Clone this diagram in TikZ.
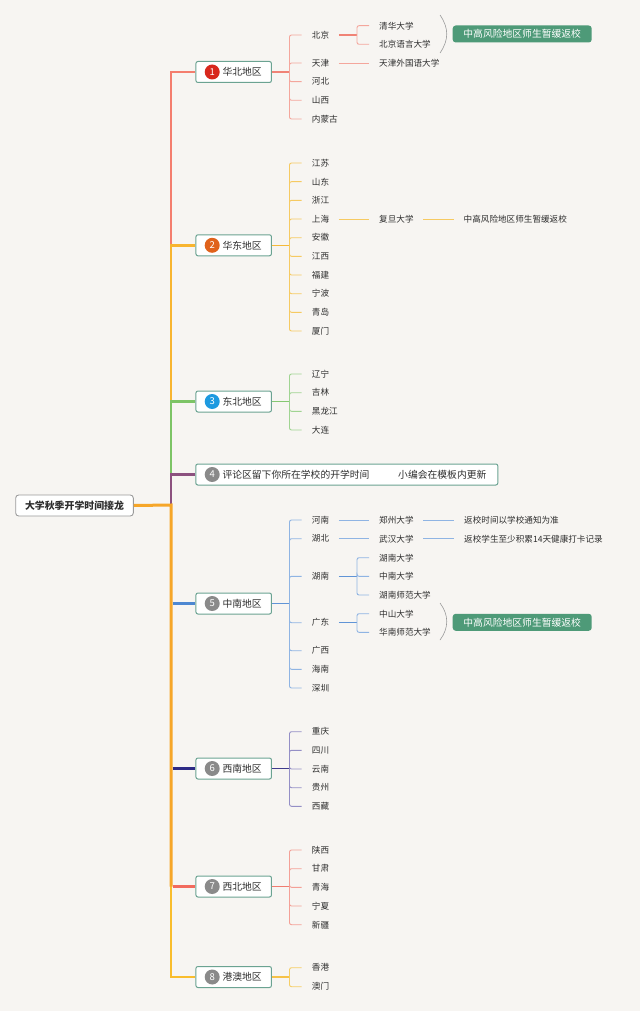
\documentclass[tikz,border=0pt]{standalone}
\usepackage{fontspec}
\setmainfont{Noto Sans CJK SC}
\definecolor{bgc}{HTML}{F7F5F2}
\definecolor{txtc}{HTML}{2E2E2E}
\definecolor{boxc}{HTML}{6BA392}
\definecolor{rootb}{HTML}{9A9A9A}
\definecolor{tagc}{HTML}{4E9A78}
\definecolor{bracec}{HTML}{999999}
\definecolor{cA}{HTML}{F47E6E}\definecolor{cAl}{HTML}{F4A69C}\definecolor{cAm}{HTML}{F08376}
\definecolor{cB}{HTML}{F8B530}\definecolor{cBl}{HTML}{F6CA62}\definecolor{cBm}{HTML}{F5BA3A}
\definecolor{cC}{HTML}{7DC466}\definecolor{cCl}{HTML}{A0D492}\definecolor{cCm}{HTML}{86C872}
\definecolor{cD}{HTML}{8C517F}
\definecolor{cE}{HTML}{4D87D1}\definecolor{cEl}{HTML}{8FB4E3}\definecolor{cEm}{HTML}{6094D6}
\definecolor{cF}{HTML}{2D2A85}\definecolor{cFl}{HTML}{948FC6}\definecolor{cFm}{HTML}{3F3B8C}
\definecolor{cG}{HTML}{F26B5E}\definecolor{cGl}{HTML}{F4A097}\definecolor{cGm}{HTML}{F07C70}
\definecolor{cH}{HTML}{F9BD2D}\definecolor{cHl}{HTML}{F6CE66}\definecolor{cHm}{HTML}{F6C248}
\definecolor{cO}{HTML}{F6A629}
\definecolor{nA}{HTML}{D8281D}\definecolor{nB}{HTML}{E0621B}\definecolor{nC}{HTML}{1E9AE0}\definecolor{nG}{HTML}{8A8A8A}
\tikzset{
  lab/.style={anchor=west, inner sep=0pt, font=\fontsize{8.6}{10}\selectfont, text=txtc},
  regbox/.style={draw=boxc, line width=1pt, fill=white, rounded corners=2pt, minimum height=21pt, minimum width=75.5pt, inner sep=0pt},
  regtxt/.style={anchor=west, inner sep=0pt, font=\fontsize{9.8}{11}\selectfont, text=txtc},
  numc/.style={circle, minimum size=15pt, inner sep=0pt, text=white, font=\fontsize{9.5}{10}\selectfont},
  tagbox/.style={fill=tagc, rounded corners=3pt, text=white, minimum width=139pt, minimum height=17pt, inner sep=0pt, font=\fontsize{9.8}{11}\selectfont},
  rootbox/.style={draw=rootb, line width=0.9pt, fill=white, rounded corners=3pt, minimum width=117.6pt, minimum height=21pt, inner sep=0pt, font=\bfseries\fontsize{9.9}{11}\selectfont, text=txtc},
  bracel/.style={draw=bracec, line width=0.6pt},
  sub/.style={line width=0.9pt, rounded corners=2pt},
  trunk/.style={line width=2.6pt},
}
\newcommand\mybrk[3]{\draw[sub, #1] (#2.east -| bx) |- ([xshift=-10pt]#3.west);}
\newcommand\mybrkb[3]{\draw[sub, #1] (#2.east -| bt) |- ([xshift=-10pt]#3.west);}
\newcommand\mylink[3]{\draw[line width=0.9pt, #1] ([xshift=9.5pt]#2.east) -- ([xshift=-10pt]#3.west);}
\begin{document}
\begin{tikzpicture}[x=1pt,y=-1pt]
\useasboundingbox[fill=bgc] (0,0) rectangle (640,1011);
\coordinate (bx) at (289.5,0);
\coordinate (bt) at (357,0);
\coordinate (tx) at (171,505);

% root
\node[rootbox] (root) at (74.5,505.5) {大学秋季开学时间接龙};

% region boxes
\node[regbox] (r1) at (233.7,72) {};
\node[regbox] (r2) at (233.7,245.3) {};
\node[regbox] (r3) at (233.7,401.5) {};
\node[regbox, minimum width=302pt] (r4) at (346.8,474.5) {};
\node[regbox] (r5) at (233.7,603.5) {};
\node[regbox] (r6) at (233.7,768.5) {};
\node[regbox] (r7) at (233.7,886.5) {};
\node[regbox] (r8) at (233.7,977) {};

% trunk
\draw[trunk, cA] (r1.west) -| (tx);
\draw[trunk, cB] (r2.west) -| (tx);
\draw[trunk, cC] (r3.west) -| (tx);
\draw[trunk, cD, line width=2.2pt] (r4.west) -| (tx);
\draw[trunk, cH] (r8.west) -| (tx);
\draw[line width=3pt, cO] (root.east) -- (tx) -- (tx |- r7.west);
\draw[line width=3pt, cE] ([xshift=1.5pt]tx |- r5.west) -- (r5.west);
\draw[line width=3pt, cF] ([xshift=1.5pt]tx |- r6.west) -- (r6.west);
\draw[line width=3pt, cG] ([xshift=1.5pt]tx |- r7.west) -- (r7.west);

% numbers and region labels
\node[numc, fill=nA] (n1) at (212.2,72) {1};
\node[regtxt] (t1) at (222.3,72) {华北地区};
\node[numc, fill=nB] (n2) at (212.2,245.3) {2};
\node[regtxt] (t2) at (222.3,245.3) {华东地区};
\node[numc, fill=nC] (n3) at (212.2,401.5) {3};
\node[regtxt] (t3) at (222.3,401.5) {东北地区};
\node[numc, fill=nG] (n4) at (212.2,474.5) {4};
\node[regtxt] (t4) at (222.3,474.5) {评论区留下你所在学校的开学时间};
\node[regtxt] (t4b) at (398,474.5) {小编会在模板内更新};
\node[numc, fill=nG] (n5) at (212.2,603.5) {5};
\node[regtxt] (t5) at (222.3,603.5) {中南地区};
\node[numc, fill=nG] (n6) at (212.2,768.5) {6};
\node[regtxt] (t6) at (222.3,768.5) {西南地区};
\node[numc, fill=nG] (n7) at (212.2,886.5) {7};
\node[regtxt] (t7) at (222.3,886.5) {西北地区};
\node[numc, fill=nG] (n8) at (212.2,977) {8};
\node[regtxt] (t8) at (222.3,977) {港澳地区};

% ---------- 华北 ----------
\node[lab] (bj) at (311.7,35) {北京};
\node[lab] (tj) at (311.7,63) {天津};
\node[lab] (hb) at (311.7,81.7) {河北};
\node[lab] (sx) at (311.7,100.3) {山西};
\node[lab] (nm) at (311.7,119) {内蒙古};
\node[lab] (qh) at (379,25.7) {清华大学};
\node[lab] (bly) at (379,44.3) {北京语言大学};
\node[lab] (tjw) at (379,63) {天津外国语大学};
\draw[line width=1.1pt, cAm] (r1.east) -- (r1.east -| bx);
\foreach \c in {bj,tj,hb,sx,nm}{\mybrk{cAl}{r1}{\c}}
\draw[line width=1.1pt, cAm] ([xshift=9.5pt]bj.east) -- (bj.east -| bt);
\foreach \c in {qh,bly}{\mybrkb{cAl}{bj}{\c}}
\mylink{cAl}{tj}{tjw}
\draw[bracel] (440,15) .. controls (449,28) and (449,40) .. (440,53);
\node[tagbox] (tag1) at (522.2,34) {中高风险地区师生暂缓返校};

% ---------- 华东 ----------
\node[lab] (js) at (311.7,163) {江苏};
\node[lab] (sd) at (311.7,181.7) {山东};
\node[lab] (zj) at (311.7,200.3) {浙江};
\node[lab] (sh) at (311.7,219) {上海};
\node[lab] (ah) at (311.7,237.7) {安徽};
\node[lab] (jx) at (311.7,256.3) {江西};
\node[lab] (fj) at (311.7,275) {福建};
\node[lab] (nb) at (311.7,293.7) {宁波};
\node[lab] (qd) at (311.7,312.3) {青岛};
\node[lab] (xm) at (311.7,331) {厦门};
\node[lab] (fd) at (379,219) {复旦大学};
\node[lab] (fdn) at (463.5,219) {中高风险地区师生暂缓返校};
\draw[line width=1.1pt, cBm] (r2.east) -- (r2.east -| bx);
\foreach \c in {js,sd,zj,sh,ah,jx,fj,nb,qd,xm}{\mybrk{cBl}{r2}{\c}}
\mylink{cBl}{sh}{fd}
\mylink{cBl}{fd}{fdn}

% ---------- 东北 ----------
\node[lab] (ln) at (311.7,374) {辽宁};
\node[lab] (jl) at (311.7,392.7) {吉林};
\node[lab] (hlj) at (311.7,411.3) {黑龙江};
\node[lab] (dl) at (311.7,430) {大连};
\draw[line width=1.1pt, cCm] (r3.east) -- (r3.east -| bx);
\foreach \c in {ln,jl,hlj,dl}{\mybrk{cCl}{r3}{\c}}

% ---------- 中南 ----------
\node[lab] (hen) at (311.7,520) {河南};
\node[lab] (hub) at (311.7,538.7) {湖北};
\node[lab] (hun) at (311.7,576.3) {湖南};
\node[lab] (gd) at (311.7,622.7) {广东};
\node[lab] (gx) at (311.7,650.7) {广西};
\node[lab] (hain) at (311.7,669.3) {海南};
\node[lab] (sz) at (311.7,688) {深圳};
\node[lab] (zz) at (379,520) {郑州大学};
\node[lab] (wh) at (379,538.7) {武汉大学};
\node[lab] (hnu) at (379,557.7) {湖南大学};
\node[lab] (csu) at (379,576.3) {中南大学};
\node[lab] (hnsf) at (379,595) {湖南师范大学};
\node[lab] (zs) at (379,613.7) {中山大学};
\node[lab] (hnsd) at (379,632.3) {华南师范大学};
\node[lab] (zzn) at (464,520) {返校时间以学校通知为准};
\node[lab] (whn) at (464,538.7) {返校学生至少积累14天健康打卡记录};
\draw[line width=1.1pt, cEm] (r5.east) -- (r5.east -| bx);
\foreach \c in {hen,hub,hun,gd,gx,hain,sz}{\mybrk{cEl}{r5}{\c}}
\mylink{cEl}{hen}{zz}
\mylink{cEl}{zz}{zzn}
\mylink{cEl}{hub}{wh}
\mylink{cEl}{wh}{whn}
\draw[line width=1.1pt, cEm] ([xshift=9.5pt]hun.east) -- (hun.east -| bt);
\foreach \c in {hnu,csu,hnsf}{\mybrkb{cEl}{hun}{\c}}
\draw[line width=1.1pt, cEm] ([xshift=9.5pt]gd.east) -- (gd.east -| bt);
\foreach \c in {zs,hnsd}{\mybrkb{cEl}{gd}{\c}}
\draw[bracel] (440,603) .. controls (449,615) and (449,628) .. (440,640);
\node[tagbox] (tag2) at (522.2,622.3) {中高风险地区师生暂缓返校};

% ---------- 西南 ----------
\node[lab] (cq) at (311.7,731.7) {重庆};
\node[lab] (sc) at (311.7,750.3) {四川};
\node[lab] (yn) at (311.7,769) {云南};
\node[lab] (gz) at (311.7,787.7) {贵州};
\node[lab] (xz) at (311.7,806.3) {西藏};
\draw[line width=1.1pt, cFm] (r6.east) -- (r6.east -| bx);
\foreach \c in {cq,sc,yn,gz,xz}{\mybrk{cFl}{r6}{\c}}

% ---------- 西北 ----------
\node[lab] (shx) at (311.7,850) {陕西};
\node[lab] (gs) at (311.7,868.7) {甘肃};
\node[lab] (qhai) at (311.7,887.3) {青海};
\node[lab] (nx) at (311.7,906) {宁夏};
\node[lab] (xj) at (311.7,924.7) {新疆};
\draw[line width=1.1pt, cGm] (r7.east) -- (r7.east -| bx);
\foreach \c in {shx,gs,qhai,nx,xj}{\mybrk{cGl}{r7}{\c}}

% ---------- 港澳 ----------
\node[lab] (hk) at (311.7,967.7) {香港};
\node[lab] (mo) at (311.7,986.7) {澳门};
\draw[line width=1.1pt, cHm] (r8.east) -- (r8.east -| bx);
\foreach \c in {hk,mo}{\mybrk{cHl}{r8}{\c}}
\end{tikzpicture}
\end{document}
